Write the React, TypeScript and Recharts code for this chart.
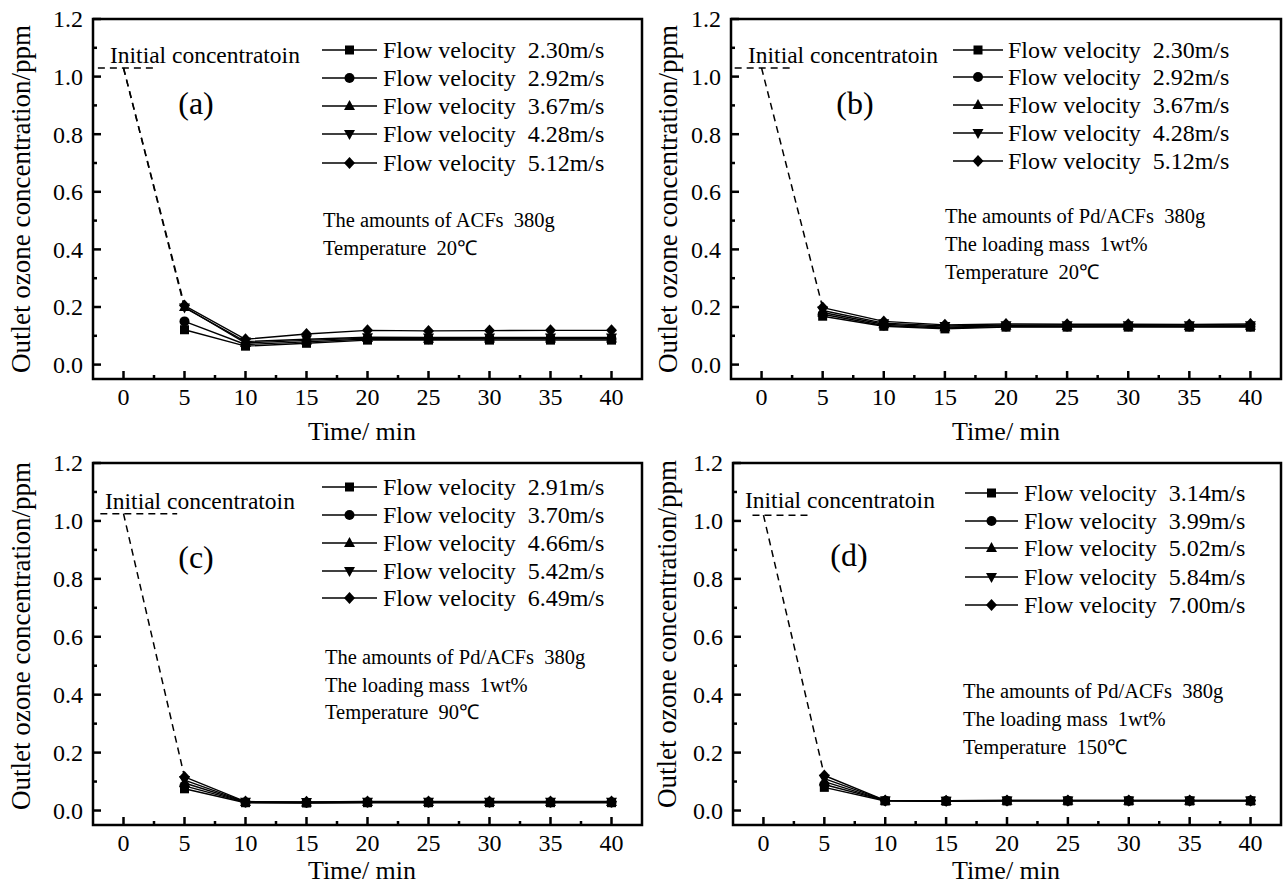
import { LineChart, Line, XAxis, YAxis, ReferenceLine, ReferenceArea } from "recharts";

const FONT = "'Liberation Serif', 'Times New Roman', serif";

// shared axes
const timeMin = [5, 10, 15, 20, 25, 30, 35, 40];
const xTicks = [0, 2.5, 5, 7.5, 10, 12.5, 15, 17.5, 20, 22.5, 25, 27.5, 30, 32.5, 35, 37.5, 40];
const yTicks = [0, 0.1, 0.2, 0.3, 0.4, 0.5, 0.6, 0.7, 0.8, 0.9, 1.0, 1.1, 1.2];
const markerShapes = ["square", "circle", "up", "down", "diamond"];

// (a) ACFs, 20°C
const velA = ["2.30", "2.92", "3.67", "4.28", "5.12"];
const a1 = [0.121, 0.064, 0.074, 0.085, 0.085, 0.085, 0.085, 0.085];
const a2 = [0.15, 0.07, 0.079, 0.089, 0.088, 0.089, 0.089, 0.089];
const a3 = [0.2, 0.075, 0.084, 0.092, 0.09, 0.091, 0.091, 0.091];
const a4 = [0.198, 0.08, 0.088, 0.095, 0.094, 0.094, 0.094, 0.094];
const a5 = [0.205, 0.088, 0.106, 0.119, 0.117, 0.118, 0.119, 0.119];
const notesA = ["The amounts of ACFs\u00a0\u00a0380g", "Temperature\u00a0\u00a020\u2103"];

// (b) Pd/ACFs, 20°C
const velB = ["2.30", "2.92", "3.67", "4.28", "5.12"];
const b1 = [0.168, 0.133, 0.124, 0.13, 0.13, 0.13, 0.13, 0.13];
const b2 = [0.175, 0.136, 0.127, 0.132, 0.132, 0.133, 0.132, 0.132];
const b3 = [0.181, 0.14, 0.13, 0.135, 0.134, 0.135, 0.134, 0.135];
const b4 = [0.188, 0.144, 0.134, 0.137, 0.137, 0.137, 0.137, 0.137];
const b5 = [0.198, 0.15, 0.138, 0.141, 0.14, 0.14, 0.139, 0.141];
const notesB = ["The amounts of Pd/ACFs\u00a0\u00a0380g", "The loading mass\u00a0\u00a01wt%", "Temperature\u00a0\u00a020\u2103"];

// (c) Pd/ACFs, 90°C
const velC = ["2.91", "3.70", "4.66", "5.42", "6.49"];
const c1 = [0.075, 0.027, 0.026, 0.027, 0.027, 0.027, 0.027, 0.027];
const c2 = [0.085, 0.028, 0.027, 0.028, 0.028, 0.028, 0.028, 0.028];
const c3 = [0.095, 0.029, 0.028, 0.029, 0.029, 0.029, 0.029, 0.029];
const c4 = [0.105, 0.03, 0.029, 0.03, 0.03, 0.03, 0.03, 0.03];
const c5 = [0.116, 0.031, 0.03, 0.031, 0.031, 0.031, 0.031, 0.031];
const notesC = ["The amounts of Pd/ACFs\u00a0\u00a0380g", "The loading mass\u00a0\u00a01wt%", "Temperature\u00a0\u00a090\u2103"];

// (d) Pd/ACFs, 150°C
const velD = ["3.14", "3.99", "5.02", "5.84", "7.00"];
const d1 = [0.08, 0.033, 0.032, 0.033, 0.033, 0.033, 0.033, 0.033];
const d2 = [0.09, 0.034, 0.033, 0.034, 0.034, 0.034, 0.034, 0.034];
const d3 = [0.1, 0.034, 0.033, 0.034, 0.034, 0.034, 0.034, 0.034];
const d4 = [0.11, 0.035, 0.034, 0.035, 0.035, 0.035, 0.035, 0.035];
const d5 = [0.121, 0.035, 0.034, 0.035, 0.035, 0.035, 0.035, 0.035];
const notesD = ["The amounts of Pd/ACFs\u00a0\u00a0380g", "The loading mass\u00a0\u00a01wt%", "Temperature\u00a0\u00a0150\u2103"];

// initial concentration: level, dashed stub start/end, targets at 5 min
const initA = { level: 1.03, from: -2.1, to: 2.8, ends: [0.205, 0.198] };
const initB = { level: 1.03, from: -2.2, to: 2.3, ends: [0.198] };
const initC = { level: 1.025, from: -1.9, to: 4.4, ends: [0.116] };
const initD = { level: 1.02, from: -0.9, to: 3.85, ends: [0.121] };

function Marker({ cx, cy, shape }: { cx: number; cy: number; shape: string }) {
  if (cx == null || cy == null) return null;
  if (shape === "square") return <rect x={cx - 4.5} y={cy - 4.5} width={9} height={9} fill="#000" />;
  if (shape === "circle") return <circle cx={cx} cy={cy} r={5} fill="#000" />;
  if (shape === "up")
    return <polygon points={`${cx},${cy - 6} ${cx - 5.5},${cy + 4} ${cx + 5.5},${cy + 4}`} fill="#000" />;
  if (shape === "down")
    return <polygon points={`${cx},${cy + 6} ${cx - 5.5},${cy - 4} ${cx + 5.5},${cy - 4}`} fill="#000" />;
  return <polygon points={`${cx},${cy - 6} ${cx + 5.5},${cy} ${cx},${cy + 6} ${cx - 5.5},${cy}`} fill="#000" />;
}

const XTick = (props: any) => {
  const { x, y, payload } = props;
  const v = payload.value;
  const major = v % 5 === 0;
  return (
    <g>
      <line x1={x} x2={x} y1={y} y2={y - (major ? 8 : 4)} stroke="#000" strokeWidth={2.5} />
      {major && (
        <text x={x} y={y + 18} dy="0.35em" textAnchor="middle" fontSize={24} fontFamily={FONT} fill="#000">
          {v}
        </text>
      )}
    </g>
  );
};

const TopTick = (props: any) => {
  const { x, y } = props;
  return <line x1={x} x2={x} y1={y} y2={y + 3} stroke="#999" strokeWidth={1} />;
};

const YTick = (props: any) => {
  const { x, y, payload } = props;
  const v = payload.value;
  const major = Math.round(v * 10) % 2 === 0;
  return (
    <g>
      <line x1={x} x2={x + (major ? 8 : 4)} y1={y} y2={y} stroke="#000" strokeWidth={2.5} />
      {major && (
        <text x={x - 10} y={y} dy="0.35em" textAnchor="end" fontSize={24} fontFamily={FONT} fill="#000">
          {v.toFixed(1)}
        </text>
      )}
    </g>
  );
};

type PanelProps = {
  left: number;
  top: number;
  width: number;
  height: number;
  mt: number;
  mr: number;
  yw: number;
  xh: number;
  series: number[][];
  vel: string[];
  notes: string[];
  init: { level: number; from: number; to: number; ends: number[] };
  letter: string;
  letterPos: [number, number];
  initPos: [number, number];
  yTitle: [number, number];
  xTitle: [number, number];
  legend: { x1: number; x2: number; tx: number; rows: number[] };
  noteX: number;
  noteRows: number[];
};

function Panel(p: PanelProps) {
  const rows = timeMin.map((t, i) => {
    const r: any = { t };
    p.series.forEach((s, k) => (r[`s${k}`] = s[i]));
    return r;
  });
  const txt = { fontFamily: FONT, fill: "#000" } as const;
  return (
    <div style={{ position: "absolute", left: p.left, top: p.top, width: p.width, height: p.height }}>
      <LineChart
        width={p.width}
        height={p.height}
        data={rows}
        margin={{ top: p.mt, right: p.mr, bottom: 0, left: 0 }}
        style={{ overflow: "visible" }}
      >
        <XAxis
          dataKey="t"
          type="number"
          domain={[-2.5, 42.5]}
          ticks={xTicks}
          interval={0}
          tickSize={0}
          tickMargin={0}
          tickLine={false}
          axisLine={false}
          tick={<XTick />}
          height={p.xh}
          allowDataOverflow
        />
        <XAxis
          xAxisId="top"
          orientation="top"
          type="number"
          domain={[-2.5, 42.5]}
          ticks={xTicks}
          interval={0}
          tickSize={0}
          tickMargin={0}
          tickLine={false}
          axisLine={false}
          tick={<TopTick />}
          height={0}
          allowDataOverflow
        />
        <YAxis
          type="number"
          domain={[-0.05, 1.2]}
          ticks={yTicks}
          interval={0}
          tickSize={0}
          tickMargin={0}
          tickLine={false}
          axisLine={false}
          tick={<YTick />}
          width={p.yw}
          allowDataOverflow
        />
        <ReferenceArea x1={-2.5} x2={42.5} y1={-0.05} y2={1.2} fill="none" fillOpacity={0} stroke="#000" strokeWidth={2.5} />
        <ReferenceLine
          segment={[
            { x: p.init.from, y: p.init.level },
            { x: p.init.to, y: p.init.level },
          ]}
          stroke="#000"
          strokeWidth={1.5}
          strokeDasharray="7 5"
        />
        {p.init.ends.map((e, k) => (
          <ReferenceLine
            key={`d${k}`}
            segment={[
              { x: 0, y: p.init.level },
              { x: 5, y: e },
            ]}
            stroke="#000"
            strokeWidth={1.5}
            strokeDasharray="7 5"
          />
        ))}
        {p.series.map((_, k) => (
          <Line
            key={k}
            dataKey={`s${k}`}
            stroke="#000"
            strokeWidth={1.4}
            dot={(d: any) => <Marker key={`m${k}-${d.index}`} cx={d.cx} cy={d.cy} shape={markerShapes[k]} />}
            activeDot={false}
            isAnimationActive={false}
          />
        ))}
      </LineChart>
      <svg
        width={p.width}
        height={p.height}
        style={{ position: "absolute", left: 0, top: 0, pointerEvents: "none", overflow: "visible" }}
      >
        <text
          {...txt}
          fontSize={27}
          textAnchor="middle"
          dy="0.35em"
          transform={`translate(${p.yTitle[0]},${p.yTitle[1]}) rotate(-90)`}
        >
          Outlet ozone concentration/ppm
        </text>
        <text {...txt} fontSize={26} textAnchor="middle" dy="0.35em" x={p.xTitle[0]} y={p.xTitle[1]}>
          Time/ min
        </text>
        <text {...txt} fontSize={32} textAnchor="middle" dy="0.35em" x={p.letterPos[0]} y={p.letterPos[1]}>
          {p.letter}
        </text>
        <text {...txt} fontSize={23.5} dy="0.35em" x={p.initPos[0]} y={p.initPos[1]}>
          Initial concentratoin
        </text>
        {p.vel.map((v, k) => {
          const y = p.legend.rows[k];
          const mx = (p.legend.x1 + p.legend.x2) / 2;
          return (
            <g key={v}>
              <line x1={p.legend.x1} x2={p.legend.x2} y1={y} y2={y} stroke="#000" strokeWidth={1.4} />
              <Marker cx={mx} cy={y} shape={markerShapes[k]} />
              <text {...txt} fontSize={24} dy="0.35em" x={p.legend.tx} y={y}>
                {`Flow velocity\u00a0\u00a0${v}m/s`}
              </text>
            </g>
          );
        })}
        {p.notes.map((n, k) => (
          <text key={n} {...txt} fontSize={20.5} dy="0.35em" x={p.noteX} y={p.noteRows[k]}>
            {n}
          </text>
        ))}
      </svg>
    </div>
  );
}

export default function App() {
  return (
    <div style={{ position: "absolute", left: 0, top: 0, width: 1283, height: 884, background: "#fff" }}>
      <Panel
        left={0}
        top={0}
        width={650}
        height={440}
        mt={19}
        mr={8}
        yw={93}
        xh={61}
        series={[a1, a2, a3, a4, a5]}
        vel={velA}
        notes={notesA}
        init={initA}
        letter="(a)"
        letterPos={[196, 103]}
        initPos={[110, 55]}
        yTitle={[21, 199]}
        xTitle={[362, 431]}
        legend={{ x1: 322, x2: 377, tx: 383, rows: [50, 78, 106, 134, 163] }}
        noteX={323}
        noteRows={[220, 248]}
      />
      <Panel
        left={640}
        top={0}
        width={643}
        height={440}
        mt={19}
        mr={2}
        yw={91}
        xh={61}
        series={[b1, b2, b3, b4, b5]}
        vel={velB}
        notes={notesB}
        init={initB}
        letter="(b)"
        letterPos={[215, 103]}
        initPos={[108, 55]}
        yTitle={[28, 199]}
        xTitle={[366, 431]}
        legend={{ x1: 313, x2: 363, tx: 368, rows: [50, 77, 105, 133, 161] }}
        noteX={305}
        noteRows={[216, 244, 272]}
      />
      <Panel
        left={0}
        top={440}
        width={650}
        height={444}
        mt={23}
        mr={8}
        yw={93}
        xh={59}
        series={[c1, c2, c3, c4, c5]}
        vel={velC}
        notes={notesC}
        init={initC}
        letter="(c)"
        letterPos={[196, 117]}
        initPos={[105, 61]}
        yTitle={[21, 196]}
        xTitle={[362, 430]}
        legend={{ x1: 322, x2: 377, tx: 383, rows: [47, 75, 103, 131, 158] }}
        noteX={325}
        noteRows={[217, 245, 272]}
      />
      <Panel
        left={640}
        top={440}
        width={643}
        height={444}
        mt={23}
        mr={2}
        yw={93}
        xh={59}
        series={[d1, d2, d3, d4, d5]}
        vel={velD}
        notes={notesD}
        init={initD}
        letter="(d)"
        letterPos={[209, 115]}
        initPos={[105, 60]}
        yTitle={[27, 194]}
        xTitle={[366, 430]}
        legend={{ x1: 325, x2: 378, tx: 384, rows: [53, 81, 108, 137, 165] }}
        noteX={323}
        noteRows={[251, 279, 307]}
      />
    </div>
  );
}
